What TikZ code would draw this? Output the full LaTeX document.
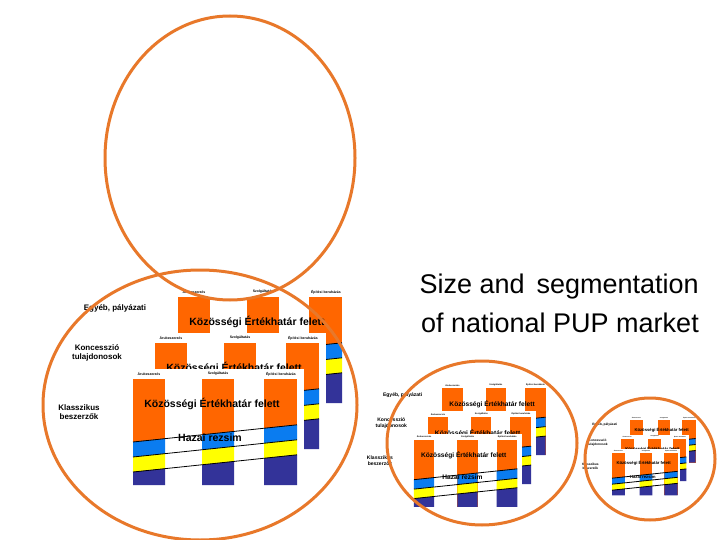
\documentclass[tikz,border=0pt]{standalone}
\usepackage{fontspec}
\setmainfont{Liberation Sans}
\definecolor{porange}{HTML}{FF6600}
\definecolor{pblue}{HTML}{0A7CF0}
\definecolor{pyellow}{HTML}{FFFF00}
\definecolor{pnavy}{HTML}{333399}
\definecolor{ring}{HTML}{E8782A}
\tikzset{ringline/.style={draw=ring,line width=3pt},
  tiny/.style={font=\fontsize{3.5}{4}\selectfont\bfseries,inner sep=0pt},
  big/.style={font=\fontsize{10.5}{12}\selectfont\bfseries,inner sep=0pt},
  side/.style={font=\fontsize{8}{9.5}\selectfont\bfseries,align=center,inner sep=0pt}}
\newcommand{\pbar}[8]{%
  \fill[porange] (#1,379) rectangle (#2,485);
  \fill[pblue] (#1,#3) -- (#2,#4) -- (#2,#6) -- (#1,#5) -- cycle;
  \fill[pyellow] (#1,#5) -- (#2,#6) -- (#2,#8) -- (#1,#7) -- cycle;
  \fill[pnavy] (#1,#7) -- (#2,#8) -- (#2,485) -- (#1,485) -- cycle;}
\newcommand{\layer}[2]{%
  \begin{scope}[shift={(#1,#2)}]
  \fill[white] (126,369) rectangle (304,490);
  \pbar{133}{165}{442}{438.6}{457}{453.6}{472}{468.6}
  \pbar{202}{234}{434.8}{431.4}{449.8}{446.4}{464.8}{461.4}
  \pbar{264}{297}{428.2}{424.8}{443.2}{439.8}{458.2}{454.8}
  \draw[line width=0.8pt] (133,442) -- (297,424.8) (133,457) -- (297,439.8) (133,472) -- (297,454.8);
  \node[tiny] at (149,374) {Árubeszerzés};
  \node[tiny] at (218,374) {Szolgáltatás};
  \node[tiny] at (281,374) {Építési beruházás};
  \node[big] at (212,404) {Közösségi Értékhatár felett};
  \node[big] at (210,438) {Hazai rezsim};
  \end{scope}}
\newcommand{\grp}{%
  \node[side] at (115,308) {Egyéb, pályázati};
  \node[side] at (97,353) {Koncesszió\\tulajdonosok};
  \node[side] at (79,412) {Klasszikus\\beszerzők};
  \layer{45}{-82}\layer{22}{-36}\layer{0}{0}}
\begin{document}
\begin{tikzpicture}[x=1pt,y=-1pt]
\useasboundingbox (0,0) rectangle (720,540);
\fill[white] (0,0) rectangle (720,540);
\begin{scope}\grp\end{scope}
\begin{scope}[shift={(330.2,201.2)},scale=0.63,transform shape]\grp\end{scope}
\begin{scope}[shift={(558.8,301.4)},scale=0.4,transform shape]\grp\end{scope}
\draw[ringline] (230,158) ellipse [x radius=125,y radius=142];
\draw[ringline] (200,405) ellipse [x radius=157,y radius=135];
\draw[ringline] (482,443) ellipse [x radius=95,y radius=82];
\draw[ringline] (650,459) ellipse [x radius=65,y radius=61];
\node[font=\fontsize{27}{39}\selectfont,align=right,anchor=east,inner sep=0pt] (title) at (699,303) {Size and\, segmentation\\of national PUP market};
\end{tikzpicture}
\end{document}
